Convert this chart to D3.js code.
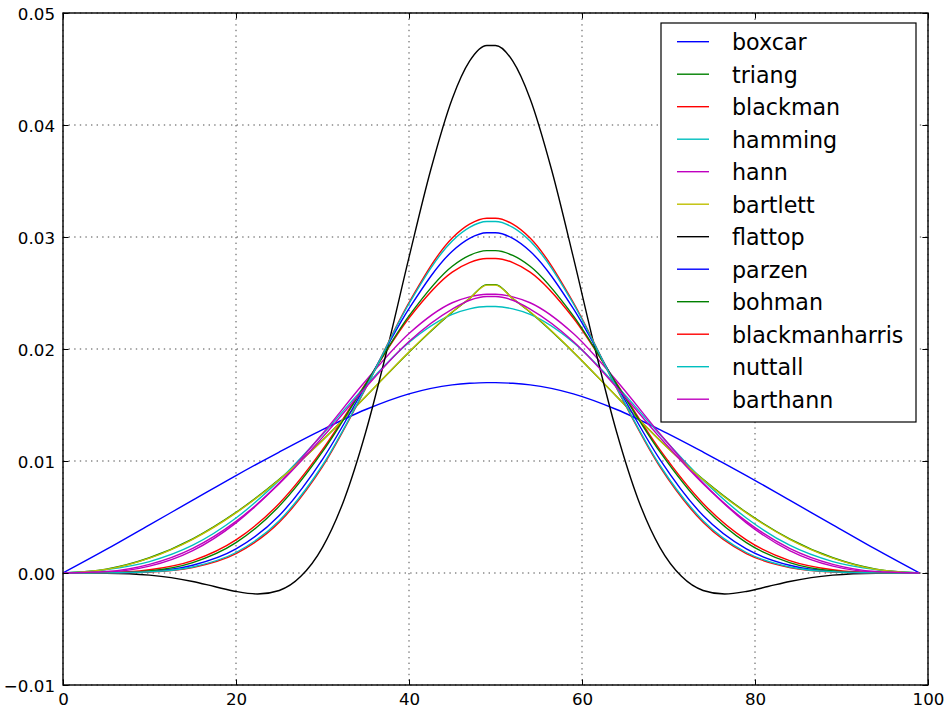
<!DOCTYPE html>
<meta charset="UTF-8">
<style>
  body {
    margin: 0;
    background-color: #fff;
  }
  svg {
    display: block;
    font-family: "DejaVu Sans", sans-serif;
  }
</style>
<svg width="944" height="708"></svg>
<script src="https://d3js.org/d3.v7.min.js"></script>
<script>
  // sample positions shared by every window except flattop
  const xs = [0, 5, 10, 15, 20, 25, 30, 35, 40, 45, 47, 49, 50, 52, 54, 59, 64, 69, 74, 79, 84, 89, 94, 99];

  const boxcar = [0, 0.0021, 0.0043, 0.0065, 0.0087, 0.0108, 0.0128, 0.0146, 0.0160, 0.0168, 0.01694, 0.0170,
    0.0170, 0.01694, 0.0168, 0.0160, 0.0146, 0.0128, 0.0108, 0.0087, 0.0065, 0.0043, 0.0021, 0];
  const triang = [0, 0.00034, 0.00136, 0.00305, 0.00541, 0.00836, 0.01186, 0.01576, 0.01972, 0.02328, 0.02450, 0.02575,
    0.02575, 0.02450, 0.02328, 0.01972, 0.01576, 0.01186, 0.00836, 0.00541, 0.00305, 0.00136, 0.00034, 0];
  const blackman = [0, 0.00003, 0.00029, 0.00111, 0.00296, 0.00621, 0.01101, 0.01693, 0.02277, 0.02687, 0.02772, 0.02808,
    0.02808, 0.02772, 0.02687, 0.02277, 0.01693, 0.01101, 0.00621, 0.00296, 0.00111, 0.00029, 0.00003, 0];
  const hamming = [0, 0.00030, 0.00102, 0.00248, 0.00491, 0.00828, 0.01237, 0.01673, 0.02059, 0.02309, 0.02358, 0.02379,
    0.02379, 0.02358, 0.02309, 0.02059, 0.01673, 0.01237, 0.00828, 0.00491, 0.00248, 0.00102, 0.00030, 0];
  const hann = [0, 0.00008, 0.00061, 0.00200, 0.00448, 0.00804, 0.01244, 0.01717, 0.02138, 0.02413, 0.02466, 0.02489,
    0.02489, 0.02466, 0.02413, 0.02138, 0.01717, 0.01244, 0.00804, 0.00448, 0.00200, 0.00061, 0.00008, 0];
  const bartlett = [0, 0.00032, 0.00133, 0.00301, 0.00537, 0.00833, 0.01184, 0.01576, 0.01974, 0.02332, 0.0245, 0.0257,
    0.0257, 0.0245, 0.02332, 0.01974, 0.01576, 0.01184, 0.00833, 0.00537, 0.00301, 0.00133, 0.00032, 0];
  const parzen = [0, 0.00001, 0.00014, 0.00069, 0.00215, 0.00513, 0.01015, 0.01676, 0.02360, 0.02873, 0.02988, 0.03038,
    0.03038, 0.02988, 0.02873, 0.02360, 0.01676, 0.01015, 0.00513, 0.00215, 0.00069, 0.00014, 0.00001, 0];
  const bohman = [0, 0.00001, 0.00019, 0.00093, 0.00271, 0.00597, 0.01083, 0.01687, 0.02295, 0.02739, 0.02836, 0.02878,
    0.02878, 0.02836, 0.02739, 0.02295, 0.01687, 0.01083, 0.00597, 0.00271, 0.00093, 0.00019, 0.00001, 0];
  const blackmanharris = [0, 0.00001, 0.00009, 0.00049, 0.00173, 0.00453, 0.00949, 0.01650, 0.02415, 0.02991, 0.03115, 0.03168,
    0.03168, 0.03115, 0.02991, 0.02415, 0.01650, 0.00949, 0.00453, 0.00173, 0.00049, 0.00009, 0.00001, 0];
  const nuttall = [0, 0.00001, 0.00011, 0.00054, 0.00183, 0.00467, 0.00962, 0.01654, 0.02404, 0.02965, 0.03086, 0.03138,
    0.03138, 0.03086, 0.02965, 0.02404, 0.01654, 0.00962, 0.00467, 0.00183, 0.00054, 0.00011, 0.00001, 0];
  const barthann = [0, 0.00013, 0.00077, 0.00220, 0.00461, 0.00798, 0.01211, 0.01658, 0.02067, 0.02356, 0.02435, 0.02469,
    0.02469, 0.02435, 0.02356, 0.02067, 0.01658, 0.01211, 0.00798, 0.00461, 0.00220, 0.00077, 0.00013, 0];

  // flattop dips below zero, so it gets a denser set of samples
  const flattopXs = [0, 5, 10, 12.5, 15, 17.5, 20, 22.5, 25, 27.5, 30, 32.5, 35, 37.5, 40, 42.5, 45, 47, 49,
    50, 52, 54, 56.5, 59, 61.5, 64, 66.5, 69, 71.5, 74, 76.5, 79, 81.5, 84, 86.5, 89, 94, 99];
  const flattop = [0, -0.00002, -0.00019, -0.00041, -0.00076, -0.00121, -0.00165, -0.00188, -0.00156, -0.00030,
    0.00229, 0.00655, 0.01259, 0.02005, 0.02818, 0.03596, 0.04235, 0.0457, 0.0471,
    0.0471, 0.0457, 0.04235, 0.03596, 0.02818, 0.02005, 0.01259, 0.00655, 0.00229,
    -0.00030, -0.00156, -0.00188, -0.00165, -0.00121, -0.00076, -0.00041, -0.00019, -0.00002, 0];

  const xTicks = [0, 20, 40, 60, 80, 100];
  const yTicks = [-0.01, 0.00, 0.01, 0.02, 0.03, 0.04, 0.05];

  const names = ['boxcar', 'triang', 'blackman', 'hamming', 'hann', 'bartlett', 'flattop',
    'parzen', 'bohman', 'blackmanharris', 'nuttall', 'barthann'];
  const values = [boxcar, triang, blackman, hamming, hann, bartlett, flattop,
    parzen, bohman, blackmanharris, nuttall, barthann];

  // matplotlib classic colour cycle
  const COLORS = ['#0000ff', '#008000', '#ff0000', '#00bfbf', '#bf00bf', '#bfbf00', '#000000'];

  const LEFT = 63, RIGHT = 928, TOP = 13, BOTTOM = 685;
  const TICK_FONT = 16.7, LEGEND_FONT = 22.2;

  const x = d3.scaleLinear([0, 100], [LEFT, RIGHT]);
  const y = d3.scaleLinear([-0.01, 0.05], [BOTTOM, TOP]);

  const svg = d3.select('svg');

  // dotted grid
  const grid = svg.append('g')
    .attr('stroke', '#000')
    .attr('stroke-width', 0.7)
    .attr('stroke-dasharray', '1.4,4.2');
  grid.selectAll('line.vx')
    .data(xTicks)
    .enter().append('line').classed('vx', true)
      .attr('x1', d => x(d)).attr('x2', d => x(d))
      .attr('y1', TOP).attr('y2', BOTTOM);
  grid.selectAll('line.hy')
    .data(yTicks)
    .enter().append('line').classed('hy', true)
      .attr('x1', LEFT).attr('x2', RIGHT)
      .attr('y1', d => y(d)).attr('y2', d => y(d));

  // curves
  const line = d3.line()
    .x(d => x(d[0]))
    .y(d => y(d[1]))
    .curve(d3.curveMonotoneX);

  const series = names.map((name, i) => ({
    name,
    color: COLORS[i % COLORS.length],
    points: (name === 'flattop' ? flattopXs : xs).map((xv, j) => [xv, values[i][j]]),
  }));

  svg.append('g')
    .selectAll('path')
    .data(series)
    .enter().append('path')
      .attr('fill', 'none')
      .attr('stroke', d => d.color)
      .attr('stroke-width', 1.4)
      .attr('stroke-linejoin', 'round')
      .attr('d', d => line(d.points));

  // axes with inward ticks on all four sides
  const TICK = 5.6;
  const styleAxis = (g) => {
    g.select('.domain').remove();
    g.selectAll('.tick line').attr('stroke', '#000').attr('stroke-width', 1);
    g.selectAll('.tick text')
      .attr('fill', '#000')
      .attr('font-size', TICK_FONT)
      .attr('font-family', '"DejaVu Sans", sans-serif');
  };

  svg.append('g')
    .attr('transform', `translate(0,${BOTTOM})`)
    .call(d3.axisBottom(x).tickValues(xTicks).tickFormat(d3.format('d'))
      .tickSizeInner(-TICK).tickSizeOuter(0).tickPadding(8))
    .call(styleAxis);
  svg.append('g')
    .attr('transform', `translate(0,${TOP})`)
    .call(d3.axisTop(x).tickValues(xTicks).tickFormat('')
      .tickSizeInner(-TICK).tickSizeOuter(0))
    .call(styleAxis);
  svg.append('g')
    .attr('transform', `translate(${LEFT},0)`)
    .call(d3.axisLeft(y).tickValues(yTicks).tickFormat(d3.format('.2f'))
      .tickSizeInner(-TICK).tickSizeOuter(0).tickPadding(8))
    .call(styleAxis)
    .call(g => g.selectAll('.tick text').attr('dy', '0.36em'));
  svg.append('g')
    .attr('transform', `translate(${RIGHT},0)`)
    .call(d3.axisRight(y).tickValues(yTicks).tickFormat('')
      .tickSizeInner(-TICK).tickSizeOuter(0))
    .call(styleAxis);

  // frame
  svg.append('rect')
    .attr('x', LEFT).attr('y', TOP)
    .attr('width', RIGHT - LEFT).attr('height', BOTTOM - TOP)
    .attr('fill', 'none')
    .attr('stroke', '#000')
    .attr('stroke-width', 1.4);

  // legend
  const LEG_X = 661, LEG_Y = 23, LEG_W = 255, LEG_H = 399, ROW0 = 41.7, ROW_H = 32.5;
  const legend = svg.append('g');
  legend.append('rect')
    .attr('x', LEG_X).attr('y', LEG_Y)
    .attr('width', LEG_W).attr('height', LEG_H)
    .attr('fill', '#fff')
    .attr('stroke', '#000')
    .attr('stroke-width', 1.2);

  const rows = legend.selectAll('g.row')
    .data(series)
    .enter().append('g').classed('row', true)
      .attr('transform', (_, i) => `translate(0,${ROW0 + ROW_H * i})`);
  rows.append('line')
    .attr('x1', 677).attr('x2', 709)
    .attr('stroke', d => d.color)
    .attr('stroke-width', 1.4);
  rows.append('text')
    .attr('x', 732)
    .attr('y', 8.5)
    .attr('font-size', LEGEND_FONT)
    .attr('fill', '#000')
    .text(d => d.name);
</script>
